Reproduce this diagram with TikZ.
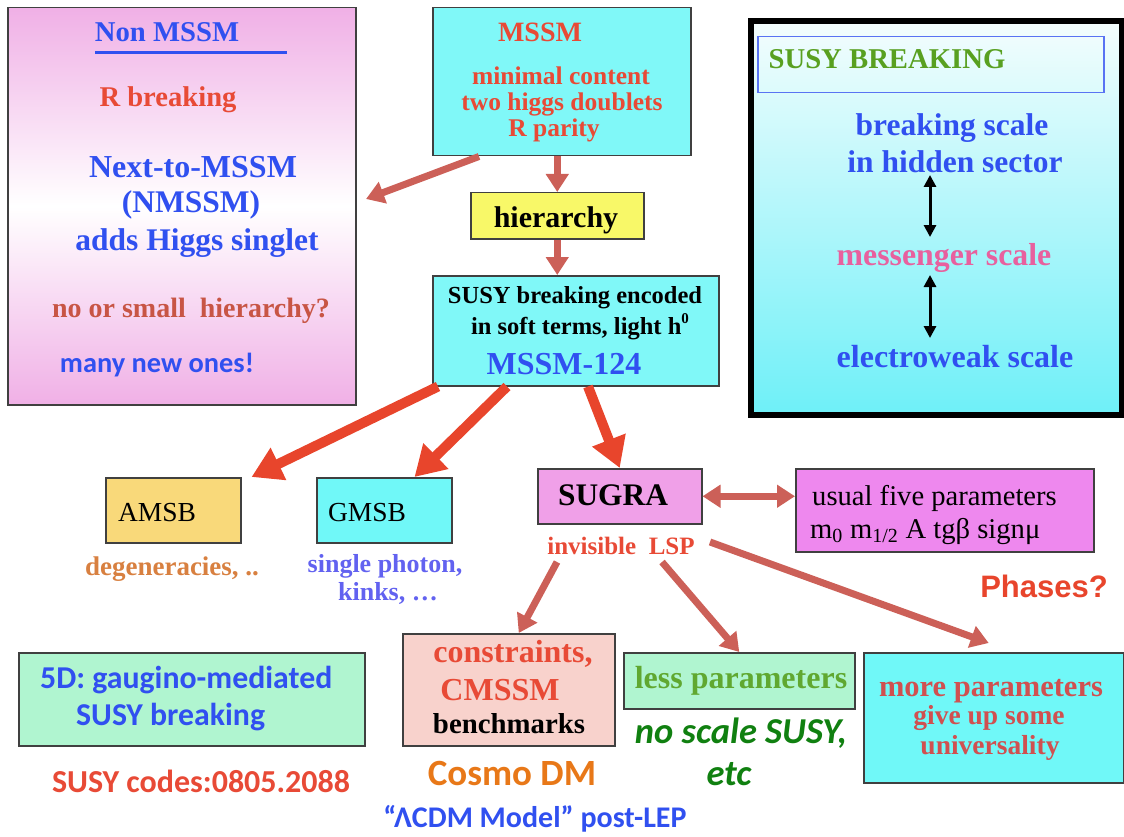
\documentclass[tikz,border=0pt]{standalone}
\usepackage{fontspec}
\setmainfont{Liberation Serif}
\newfontfamily\carlito{Carlito}
\newfontfamily\arialfont{Liberation Sans}
\usetikzlibrary{arrows.meta}

\definecolor{ntblue}{HTML}{3050F0}
\definecolor{tred}{HTML}{E84A36}
\definecolor{hierq}{HTML}{C85545}
\definecolor{mutedred}{HTML}{CC6058}
\definecolor{brightred}{HTML}{E8452C}
\definecolor{cyanfill}{HTML}{80F8F8}
\definecolor{cyantwo}{HTML}{70F8F8}
\definecolor{yellowfill}{HTML}{F8F868}
\definecolor{amsbfill}{HTML}{F9D97A}
\definecolor{sugrafill}{HTML}{F0A0E8}
\definecolor{usualfill}{HTML}{EE88EE}
\definecolor{consfill}{HTML}{F8D2CC}
\definecolor{mintfill}{HTML}{B0F5D0}
\definecolor{pinkfill}{HTML}{F0B0E6}
\definecolor{boxline}{HTML}{404040}
\definecolor{sbgreen}{HTML}{58A020}
\definecolor{msgpink}{HTML}{E8609E}
\definecolor{degorange}{HTML}{D88040}
\definecolor{photonblue}{HTML}{6262F0}
\definecolor{lessgreen}{HTML}{60A830}
\definecolor{nsgreen}{HTML}{108010}
\definecolor{cosmoorange}{HTML}{E87818}
\definecolor{morered}{HTML}{D05050}
\definecolor{brktop}{HTML}{F4FDFD}
\definecolor{brkbottom}{HTML}{6EF0F8}

\newcommand{\fs}[1]{\fontsize{#1}{#1}\selectfont}

\begin{document}
\begin{tikzpicture}[x=1pt, y=-1pt,
  box/.style={draw=boxline, line width=1.5pt, inner sep=0pt, anchor=north west},
  lbl/.style={inner sep=0pt, anchor=base},
  lblw/.style={inner sep=0pt, anchor=base west},
  muted/.style={draw=mutedred, line width=7pt, -{Triangle[width=22pt,length=18pt]}},
  mutedboth/.style={draw=mutedred, line width=7pt, {Triangle[width=22pt,length=18pt]}-{Triangle[width=22pt,length=18pt]}},
  bright/.style={draw=brightred, line width=10pt, -{Triangle[width=34pt,length=30pt]}},
  scalearrow/.style={draw=black, line width=3pt, {Triangle[width=12pt,length=12pt]}-{Triangle[width=12pt,length=12pt]}},
]
\useasboundingbox (0,0) rectangle (1124,837);

% ---------- Non MSSM panel ----------
\node[box, top color=pinkfill, bottom color=pinkfill, middle color=white,
      minimum width=348pt, minimum height=397pt] (nonmssm) at (7,7) {};
\node[lbl, text=ntblue, font=\bfseries\fs{28.7}] (nmtitle) at (167,42) {Non MSSM};
\draw[ntblue, line width=3pt] (95,53) -- (287,53);
\node[lbl, text=tred, font=\bfseries\fs{28.6}] (rbreak) at (168,107) {R breaking};
\node[lbl, text=ntblue, font=\bfseries\fs{32}] (nmssmA) at (193,178) {Next-to-MSSM};
\node[lbl, text=ntblue, font=\bfseries\fs{31.5}] (nmssmB) at (191,213) {(NMSSM)};
\node[lbl, text=ntblue, font=\bfseries\fs{31.5}] (nmssmC) at (197,250) {adds Higgs singlet};
\node[lbl, text=hierq, font=\bfseries\fs{28}] (smallh) at (191,317) {no or small\ \ hierarchy?};
\node[lbl, text=ntblue, font=\carlito\bfseries\fs{28.4}] (newones) at (157,372) {many new ones!};

% ---------- MSSM chain ----------
\node[box, fill=cyanfill, minimum width=258pt, minimum height=148pt] (mssm) at (432,7) {};
\node[lbl, text=tred, font=\bfseries\fs{28}] (mssmT) at (540,42) {MSSM};
\node[lbl, text=tred, font=\bfseries\fs{25.5}] (mssmA) at (561,85) {minimal content};
\node[lbl, text=tred, font=\bfseries\fs{25.5}] (mssmB) at (562,111) {two higgs doublets};
\node[lbl, text=tred, font=\bfseries\fs{25.5}] (mssmC) at (554,137) {R parity};

\node[box, fill=yellowfill, minimum width=173pt, minimum height=46pt] (hier) at (470,192) {};
\node[lbl, font=\bfseries\fs{30}] (hierT) at (556,227) {hierarchy};

\node[box, fill=cyanfill, minimum width=286pt, minimum height=110pt] (soft) at (432,275) {};
\node[lbl, font=\bfseries\fs{24.5}] (softA) at (575,303) {SUSY breaking encoded};
\node[lbl, font=\bfseries\fs{24.5}] (softB) at (580,334) {in soft terms, light h\raisebox{0.42em}{\fontsize{15}{15}\selectfont 0}};
\node[lbl, text=ntblue, font=\bfseries\fs{32}] (softC) at (564,374) {MSSM-124};

\coordinate (nmin) at (366,199);
\draw[muted] ([xshift=47pt]mssm.south west) -- (nmin);
\draw[muted] (hier.north |- mssm.south) -- (hier.north);
\draw[muted] (hier.south) -- (hier.south |- soft.north);

% ---------- SUSY breaking scales ----------
\node[draw=black, line width=6pt, top color=brktop, bottom color=brkbottom, inner sep=0pt,
      anchor=north west, minimum width=371pt, minimum height=394pt] (brk) at (748,18) {};
\node[draw=ntblue!80, line width=1.5pt, inner sep=0pt, anchor=north west,
      minimum width=346pt, minimum height=56pt] (brkhead) at (757,36) {};
\node[lbl, text=sbgreen, font=\bfseries\fs{28.7}] (brkT) at (887,69) {SUSY BREAKING};
\node[lbl, text=ntblue, font=\bfseries\fs{31.5}] (hidA) at (952,136) {breaking scale};
\node[lbl, text=ntblue, font=\bfseries\fs{31.5}] (hidB) at (955,173) {in hidden sector};
\node[lbl, text=msgpink, font=\bfseries\fs{31.8}] (mess) at (944,265) {messenger scale};
\node[lbl, text=ntblue, font=\bfseries\fs{32}] (ew) at (955,367) {electroweak scale};
\coordinate (sa1) at (930,175);
\coordinate (sa2) at (930,237);
\coordinate (sa3) at (930,275);
\coordinate (sa4) at (930,338);
\draw[scalearrow] (sa1) -- (sa2);
\draw[scalearrow] (sa3) -- (sa4);

% ---------- mediation schemes ----------
\node[box, fill=amsbfill, minimum width=135pt, minimum height=65pt] (amsb) at (105,477) {};
\node[lbl, font=\fs{27.5}] (amsbT) at (157,521) {AMSB};
\node[lbl, text=degorange, font=\bfseries\fs{27}] (degen) at (172,575) {degeneracies, ..};

\node[box, fill=cyantwo, minimum width=135pt, minimum height=65pt] (gmsb) at (316,477) {};
\node[lbl, font=\fs{27.5}] (gmsbT) at (367,521) {GMSB};
\node[lbl, text=photonblue, font=\bfseries\fs{26}] (photA) at (385,572) {single photon,};
\node[lbl, text=photonblue, font=\bfseries\fs{26}] (photB) at (388,600) {kinks, \dots};

\node[box, fill=sugrafill, minimum width=164pt, minimum height=55pt] (sugra) at (537,468) {};
\node[lbl, font=\bfseries\fs{31.4}] (sugraT) at (613,505) {SUGRA};
\node[lbl, text=tred, font=\bfseries\fs{25}] (lsp) at (621,554) {invisible\ \ LSP};

\node[box, fill=usualfill, minimum width=298pt, minimum height=83pt] (usual) at (795,468) {};
\node[lblw, font=\fs{28.6}] (usualA) at (812,505) {usual five parameters};
\node[lblw, font=\fs{28.6}] (usualB) at (810,538) {m\textsubscript{0} m\textsubscript{1/2} A tgβ signμ};
\node[lbl, text=brightred, font=\arialfont\bfseries\fs{31}] (phases) at (1044,597) {Phases?};

\draw[bright] ([xshift=6pt]soft.south west) -- ([xshift=10pt]amsb.north east);
\draw[bright] ([xshift=75pt]soft.south west) -- ([xshift=-38pt]gmsb.north east);
\draw[bright] ([xshift=156pt]soft.south west) -- (sugra.north);
\draw[mutedboth] (sugra.east) -- (sugra.east -| usual.west);

% ---------- lower row ----------
\node[box, fill=mintfill, minimum width=346pt, minimum height=93pt] (fived) at (18,652) {};
\node[lblw, text=ntblue, font=\carlito\bfseries\fs{31.8}] (fivedA) at (40,688) {5D: gaugino-mediated};
\node[lblw, text=ntblue, font=\carlito\bfseries\fs{31.8}] (fivedB) at (76,725) {SUSY breaking};
\node[lbl, text=tred, font=\carlito\bfseries\fs{32}] (codes) at (201,792) {SUSY codes:0805.2088};

\node[box, fill=consfill, minimum width=212pt, minimum height=112pt] (cons) at (402,633) {};
\node[lbl, text=tred, font=\bfseries\fs{32}] (consA) at (513,662) {constraints,};
\node[lbl, text=tred, font=\bfseries\fs{32}] (consB) at (500,700) {CMSSM};
\node[lbl, font=\bfseries\fs{28.8}] (consC) at (509,733) {benchmarks};
\node[lbl, text=cosmoorange, font=\carlito\bfseries\fs{37}] (cosmo) at (512,785) {Cosmo DM};
\node[lbl, text=ntblue, font=\carlito\bfseries\fs{30}] (lcdm) at (535,827) {“ΛCDM Model” post-LEP};

\node[box, fill=mintfill, minimum width=231pt, minimum height=56pt] (less) at (623,652) {};
\node[lbl, text=lessgreen, font=\bfseries\fs{32}] (lessT) at (741,688) {less parameters};
\node[lbl, text=nsgreen, font=\carlito\bfseries\itshape\fs{36.5}] (noscA) at (741,743) {no scale SUSY,};
\node[lbl, text=nsgreen, font=\carlito\bfseries\itshape\fs{36.5}] (noscB) at (729,785) {etc};

\node[box, fill=cyantwo, minimum width=260pt, minimum height=130pt] (more) at (863,652) {};
\node[lbl, text=morered, font=\bfseries\fs{30.5}] (moreA) at (991,696) {more parameters};
\node[lbl, text=morered, font=\bfseries\fs{27.5}] (moreB) at (989,724) {give up some};
\node[lbl, text=morered, font=\bfseries\fs{27.5}] (moreC) at (990,754) {universality};

\coordinate (lspA) at (557,562);
\coordinate (lspB) at (662,562);
\coordinate (lspC) at (710,542);
\draw[muted] (lspA) -- ([xshift=10pt]cons.north);
\draw[muted] (lspB) -- (less.north);
\draw[muted] (lspC) -- ([xshift=-5pt,yshift=9pt]more.north);
\end{tikzpicture}
\end{document}
